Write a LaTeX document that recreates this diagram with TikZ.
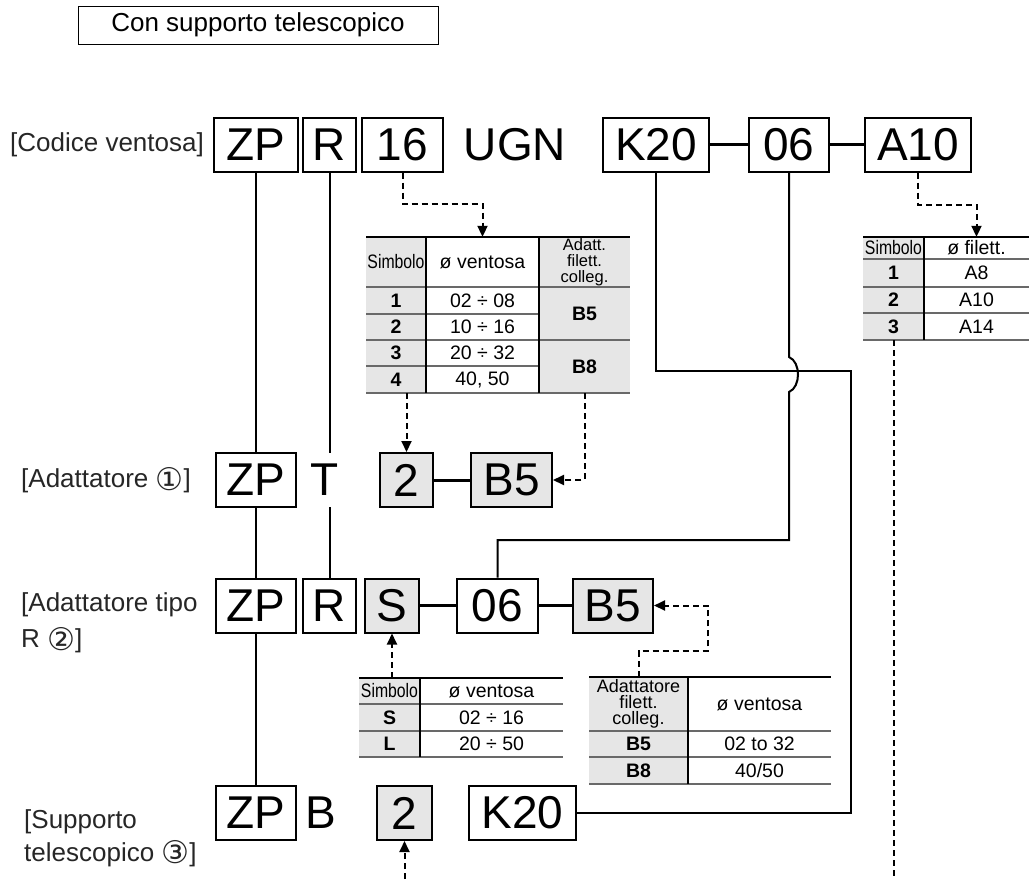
\documentclass[tikz,border=0pt]{standalone}
\usepackage{fontspec}
\setmainfont{Liberation Sans}
\newfontfamily\circfont{DejaVu Sans}
\usetikzlibrary{arrows.meta}
\definecolor{cellgray}{RGB}{230,230,230}
\definecolor{rulegray}{RGB}{105,105,105}
\newcommand{\circnum}[1]{\raisebox{-0.1em}{\scalebox{1.2}{\circfont #1}}}
\newcommand{\simb}{\scalebox{0.81}[1]{Simbolo}}
\begin{document}
\begin{tikzpicture}[x=1pt, y=-1pt, >={Triangle[width=10pt,length=11pt]},
    codebox/.style={draw, line width=2pt, minimum height=54pt, inner sep=0pt, font=\fontsize{46}{46}\selectfont},
    codetext/.style={minimum height=54pt, inner sep=0pt, font=\fontsize{46}{46}\selectfont},
    graybox/.style={codebox, fill=cellgray},
    rowlabel/.style={anchor=west, inner sep=0pt, align=left, text=black!85, font=\fontsize{26}{36}\selectfont},
    cell/.style={inner sep=0pt, align=center, font=\fontsize{19.5}{20}\selectfont},
    boldcell/.style={cell, font=\fontsize{19.5}{20}\selectfont\bfseries},
    link/.style={line width=3pt},
    route/.style={line width=2pt},
    dashlink/.style={line width=2pt, dash pattern=on 6pt off 4pt},
    thinrule/.style={line width=1.2pt, draw=rulegray},
    toprule/.style={line width=2pt}]
    \useasboundingbox (0,0) rectangle (1029,879);
    \node[draw, line width=1pt, minimum width=360pt, minimum height=38pt, inner sep=0pt, font=\fontsize{26}{26}\selectfont] (title) at (258,25) {Con supporto telescopico};

    % codice ventosa
    \node[rowlabel] (lab1) at (10,144.5) {[Codice ventosa]};
    \node[codebox, minimum width=84pt] (zp1) at (255.5,144.5) {ZP};
    \node[codebox, minimum width=53pt] (r1) at (329.5,144.5) {R};
    \node[codebox, minimum width=81pt] (b16) at (402.5,144.5) {16};
    \node[codetext] (ugn) at (515,144.5) {UGN};
    \node[codebox, minimum width=106pt] (k1) at (656,144.5) {K20};
    \node[codebox, minimum width=80pt] (o1) at (789,144.5) {06};
    \node[codebox, minimum width=106pt] (a1) at (918,144.5) {A10};
    \draw[link] (k1) -- (o1);
    \draw[link] (o1) -- (a1);

    % adattatore 1
    \node[rowlabel] (lab2) at (21,480) {[Adattatore \circnum{①}]};
    \node[codebox, minimum width=80pt] (zp2) at (255.5,480) {ZP};
    \node[codetext] (t2) at (325,480) {T};
    \node[graybox, minimum width=53pt] (s2) at (406.5,480) {2};
    \node[graybox, minimum width=81pt] (b52) at (511.5,480) {B5};
    \draw[link] (s2) -- (b52);

    % adattatore tipo R 2
    \node[rowlabel] (lab3) at (21,623) {[Adattatore tipo\\R \circnum{②}]};
    \node[codebox, minimum width=80pt] (zp3) at (255.5,605.5) {ZP};
    \node[codebox, minimum width=53pt] (r3) at (329.5,605.5) {R};
    \node[graybox, minimum width=54pt] (s3) at (392,605.5) {S};
    \node[codebox, minimum width=81pt] (o3) at (497.5,605.5) {06};
    \node[graybox, minimum width=80pt] (b53) at (613,605.5) {B5};
    \draw[link] (s3) -- (o3);
    \draw[link] (o3) -- (b53);

    % supporto telescopico 3
    \node[rowlabel, font=\fontsize{26}{33}\selectfont] (lab4) at (24,838) {[Supporto\\telescopico \circnum{③}]};
    \node[codebox, minimum width=80pt] (zp4) at (255.5,813) {ZP};
    \node[codetext] (bt4) at (321,813) {B};
    \node[graybox, minimum width=55pt] (s4) at (404.5,813) {2};
    \node[codebox, minimum width=107pt] (k4) at (522.5,813) {K20};

    % tabella diametro ventosa
    \fill[cellgray] (366,237) rectangle (426,393);
    \fill[cellgray] (539,237) rectangle (630,393);
    \draw[thinrule] (366,287) -- (630,287);
    \draw[thinrule] (366,314) -- (539,314);
    \draw[thinrule] (366,340) -- (630,340);
    \draw[thinrule] (366,366) -- (539,366);
    \draw[thinrule] (366,393) -- (630,393);
    \draw[line width=1.2pt] (426,237) -- (426,393) (539,237) -- (539,393);
    \draw[toprule] (366,237) -- (630,237);
    \node[cell] (t1h1) at (396,262) {\simb};
    \node[cell, minimum width=113pt, minimum height=50pt] (t1h2) at (482.5,262) {ø ventosa};
    \node[cell, font=\fontsize{16.5}{16}\selectfont] (t1h3) at (584.5,262) {Adatt.\\filett.\\colleg.};
    \node[boldcell] (t1c11) at (396,300.5) {1};
    \node[cell] (t1c12) at (482.5,300.5) {02 ÷ 08};
    \node[boldcell] (t1c21) at (396,327) {2};
    \node[cell] (t1c22) at (482.5,327) {10 ÷ 16};
    \node[boldcell] (t1c31) at (396,353) {3};
    \node[cell] (t1c32) at (482.5,353) {20 ÷ 32};
    \node[boldcell, minimum height=27pt] (t1c41) at (396,379.5) {4};
    \node[cell] (t1c42) at (482.5,379.5) {40, 50};
    \node[boldcell] (t1b5) at (584.5,313.5) {B5};
    \node[boldcell, minimum height=53pt] (t1b8) at (584.5,366.5) {B8};

    % tabella filettatura
    \fill[cellgray] (863,237) rectangle (924,340);
    \draw[thinrule] (863,259) -- (1029,259);
    \draw[thinrule] (863,287) -- (1029,287);
    \draw[thinrule] (863,313) -- (1029,313);
    \draw[thinrule] (863,340) -- (1029,340);
    \draw[line width=1.2pt] (924,237) -- (924,340);
    \draw[toprule] (863,237) -- (1029,237);
    \node[cell] (t2h1) at (893.5,248) {\simb};
    \node[cell, minimum width=105pt, minimum height=22pt] (t2h2) at (976.5,248) {ø filett.};
    \node[boldcell] (t2c11) at (893.5,273) {1};
    \node[cell] (t2c12) at (976.5,273) {A8};
    \node[boldcell] (t2c21) at (893.5,300) {2};
    \node[cell] (t2c22) at (976.5,300) {A10};
    \node[boldcell, minimum height=27pt] (t2c31) at (893.5,326.5) {3};
    \node[cell] (t2c32) at (976.5,326.5) {A14};

    % tabella S/L
    \fill[cellgray] (359,678) rectangle (420,757);
    \draw[thinrule] (359,704) -- (563,704);
    \draw[thinrule] (359,731) -- (563,731);
    \draw[thinrule] (359,757) -- (563,757);
    \draw[line width=1.2pt] (420,678) -- (420,757);
    \draw[toprule] (359,678) -- (563,678);
    \node[cell, minimum height=26pt] (tsh1) at (389.5,691) {\simb};
    \node[cell] (tsh2) at (491.5,691) {ø ventosa};
    \node[boldcell] (tsc11) at (389.5,717.5) {S};
    \node[cell] (tsc12) at (491.5,717.5) {02 ÷ 16};
    \node[boldcell] (tsc21) at (389.5,744) {L};
    \node[cell] (tsc22) at (491.5,744) {20 ÷ 50};

    % tabella adattatore
    \fill[cellgray] (589,677) rectangle (688,784);
    \draw[thinrule] (589,731) -- (831,731);
    \draw[thinrule] (589,757) -- (831,757);
    \draw[thinrule] (589,784) -- (831,784);
    \draw[line width=1.2pt] (688,677) -- (688,784);
    \draw[toprule] (589,677) -- (831,677);
    \node[cell, minimum height=54pt, font=\fontsize{18}{16}\selectfont] (tbh1) at (638.5,704) {Adattatore\\filett.\\colleg.};
    \node[cell] (tbh2) at (759.5,704) {ø ventosa};
    \node[boldcell] (tbc11) at (638.5,744) {B5};
    \node[cell] (tbc12) at (759.5,744) {02 to 32};
    \node[boldcell] (tbc21) at (638.5,770.5) {B8};
    \node[cell] (tbc22) at (759.5,770.5) {40/50};

    % collegamenti
    \draw[route] (zp1) -- (zp2);
    \draw[route] (zp2) -- (zp3);
    \draw[route] (zp3) -- (zp4);
    \draw[route] (r1.south) -- (r1.south |- t2.north);
    \draw[route] (r3.north |- t2.south) -- (r3.north);
    \coordinate (kbend) at (851,371);
    \draw[route] (k1.south) |- (kbend) |- (k4.east);
    \coordinate (hopa) at (789,357);
    \coordinate (hopb) at (789,392);
    \coordinate (oturn) at (789,540);
    \draw[route] (o1.south) -- (hopa) .. controls (801,362) and (801,387) .. (hopb) -- (oturn) -| (o3.north);

    \draw[dashlink, ->] (b16.south) -- ++(0,31) -| (t1h2.north);
    \draw[dashlink, ->] (a1.south) -- ++(0,32) -| (t2h2.north);
    \draw[dashlink, ->] (s2.north |- t1c41.south) -- (s2.north);
    \draw[dashlink, ->] (t1b8.south) |- (b52.east);
    \draw[dashlink, ->] (s3.south |- tsh1.north) -- (s3.south);
    \coordinate (bturn) at (708,651);
    \draw[dashlink, ->] (tbh1.north) |- (bturn) |- (b53.east);
    \coordinate (s4foot) at (404.5,879);
    \draw[dashlink, ->] (s4foot) -- (s4.south);
    \coordinate (t2foot) at (893.5,879);
    \draw[dashlink] (t2c31.south) -- (t2foot);
\end{tikzpicture}
\end{document}
